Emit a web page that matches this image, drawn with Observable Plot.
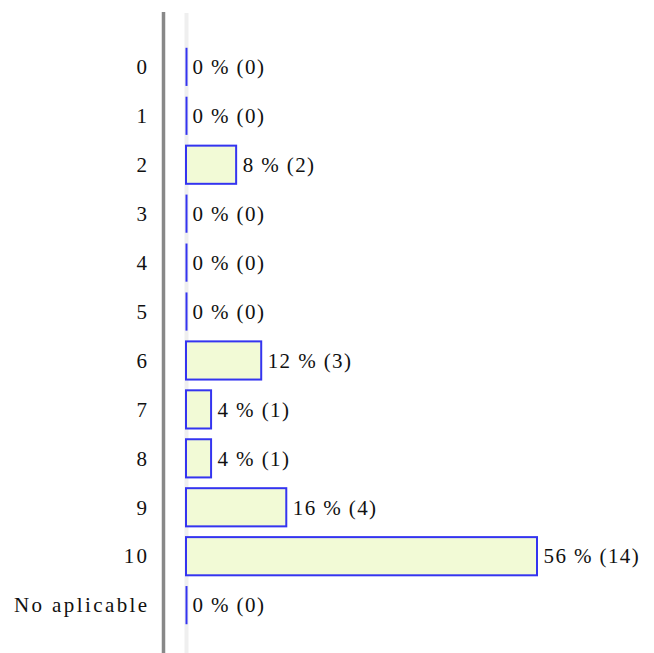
<!DOCTYPE html>
<html>
<head>
<meta charset="utf-8">
<script src="https://cdn.jsdelivr.net/npm/d3@7"></script>
<script src="https://cdn.jsdelivr.net/npm/@observablehq/plot@0.6"></script>
<style>
  html, body { margin: 0; padding: 0; background: #fff; }
  g[aria-label="text"] text { letter-spacing: 1.4px; }
  g[aria-label="y-axis tick label"] text { letter-spacing: 2.4px; }
</style>
</head>
<body>
<div id="chart"></div>
<script>
const categories = ["0", "1", "2", "3", "4", "5", "6", "7", "8", "9", "10", "No aplicable"];
const percents = [0, 0, 8, 0, 0, 0, 12, 4, 4, 16, 56, 0];
const counts = [0, 0, 2, 0, 0, 0, 3, 1, 1, 4, 14, 0];

const data = categories.map((c, i) => ({label: c, pct: percents[i], n: counts[i]}));

const chart = Plot.plot({
  width: 654,
  height: 653,
  marginLeft: 186,
  marginRight: 117,
  marginTop: 37,
  marginBottom: 18,
  style: {fontFamily: "'Liberation Serif', 'Times New Roman', serif", fontSize: "21px", color: "#111", background: "#fff"},
  x: {domain: [0, 56], axis: null},
  y: {domain: categories, padding: 0.22, round: false, label: null},
  marks: [
    Plot.ruleX([0], {dx: -23, stroke: "#888", strokeWidth: 3.5, insetTop: -25, insetBottom: -18}),
    Plot.ruleX([0], {dx: 0, stroke: "#efefef", strokeWidth: 4, insetTop: -24, insetBottom: -18}),
    Plot.axisY({tickSize: 0, tickPadding: 37, fontSize: 21}),
    Plot.barX(data, {x: "pct", y: "label", fill: "#f2fad6", stroke: "#3434f0", strokeWidth: 2}),
    Plot.tickX(data.filter(d => d.pct === 0), {x: "pct", y: "label", stroke: "#3434f0", strokeWidth: 2}),
    Plot.text(data, {x: "pct", y: "label", text: d => `${d.pct} % (${d.n})`, textAnchor: "start", dx: 6, fontSize: 21, fill: "#111"})
  ]
});
document.getElementById("chart").appendChild(chart);
</script>
</body>
</html>
